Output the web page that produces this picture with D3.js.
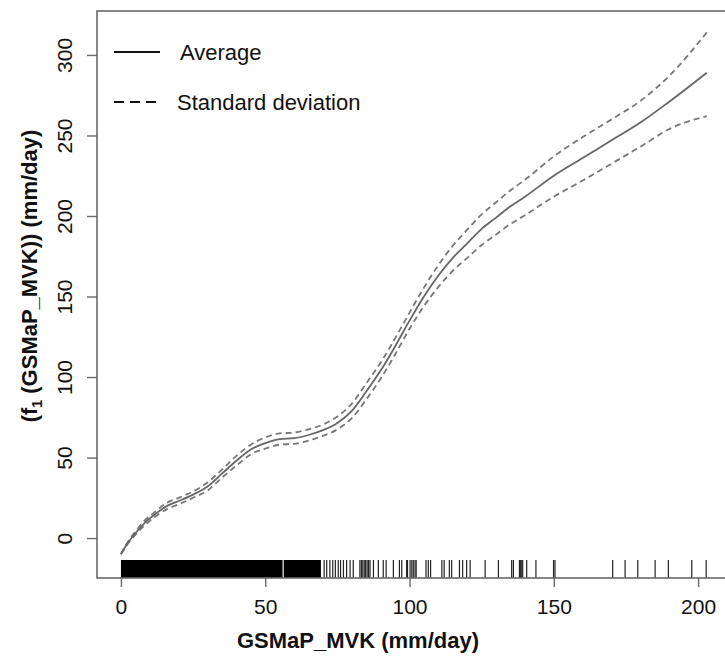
<!DOCTYPE html>
<html>
<head>
<meta charset="utf-8">
<script src="https://cdn.jsdelivr.net/npm/d3@7"></script>
<style>
  body { margin: 0; background: #fff; }
  text { font-family: "Liberation Sans", Arial, sans-serif; fill: #111; }
</style>
</head>
<body>
<div id="draw"></div>
<script>
// x grid of the smooth (mm/day)
var xs = [0, 2, 5, 8, 12, 16, 20, 25, 30, 35, 40, 45, 50, 55, 60, 65, 70, 75, 80, 85, 90, 95,
          100, 105, 110, 115, 120, 125, 130, 135, 140, 150, 160, 170, 180, 190, 203];
var average = [-10, -4, 3, 9, 15, 20, 23, 27, 32, 40, 48, 55, 59, 61.5, 62, 64, 67, 71.5, 79, 91, 104, 119,
               135, 150, 163, 174, 183, 192, 199, 206, 212, 225, 236, 247, 258, 271, 289];
var upper = [-10, -3.5, 4, 10.5, 16.5, 22, 25, 29, 34.5, 42.5, 51, 58, 62.5, 65, 65.5, 67.5, 70.5, 75.5, 83.5, 96, 109, 124,
             140, 155.5, 169.5, 181.5, 191.5, 201, 208.5, 216, 222.5, 237, 249, 260, 271.5, 287, 314];
var lower = [-10, -4.5, 2, 7.5, 13.5, 18, 21, 25, 29.5, 37.5, 45, 52, 55.5, 58, 58.5, 60.5, 63.5, 67.5, 74.5, 86, 99, 114,
             130, 144, 156, 166, 174, 182, 188.5, 195, 200.5, 212, 222, 232.5, 243, 254, 262];

// rug: dense spans (too many observations to separate) + single observations
var rugSpans = [[0, 56.0], [56.4, 69.3]];
var rugTicks = [70.4, 71.3, 72.4, 73.4, 74.3, 75.3, 76.1, 77.1, 78.2, 79.4, 80.5, 82.8, 83.3, 83.8, 84.3, 84.8, 85.3, 85.8, 86.3,
                87.5, 89.2, 90.9, 91.9, 94.4, 96.5, 97.3, 99.0, 99.3, 100.2, 100.8, 101.3, 101.9, 102.3,
                105.7, 106.5, 107.3, 111.2, 112.0, 113.8, 114.6, 117.3, 118.4, 119.8, 121.0, 126.2, 130.8,
                135.4, 136.0, 138.1, 138.4, 138.7, 139.2, 140.6, 143.8, 149.9, 150.4,
                170.4, 174.7, 179.1, 185.1, 189.7, 197.8, 202.8];

var xTicks = [0, 50, 100, 150, 200];
var yTicks = [0, 50, 100, 150, 200, 250, 300];

var W = 725, H = 656;
var pLeft = 97, pTop = 11, pRight = 731, pBottom = 578;

var x = d3.scaleLinear().domain([-8.3, 211.4]).range([pLeft, pRight]);
var y = d3.scaleLinear().domain([-24.8, 327.3]).range([pBottom, pTop]);

var svg = d3.select('#draw').append('svg').attr('width', W).attr('height', H);

svg.append('clipPath').attr('id', 'clip')
    .append('rect').attr('x', pLeft).attr('y', pTop).attr('width', pRight - pLeft).attr('height', pBottom - pTop);

var plot = svg.append('g').attr('clip-path', 'url(#clip)');

// rug
plot.selectAll('rect.span')
    .data(rugSpans)
    .enter()
    .append('rect')
    .attr('x', function(d){ return x(d[0]); })
    .attr('width', function(d){ return x(d[1]) - x(d[0]); })
    .attr('y', pBottom - 18).attr('height', 18)
    .attr('fill', '#000');

plot.selectAll('line.rug')
    .data(rugTicks)
    .enter()
    .append('line')
    .attr('x1', function(d){ return x(d); }).attr('x2', function(d){ return x(d); })
    .attr('y1', pBottom - 18).attr('y2', pBottom)
    .attr('stroke', '#222').attr('stroke-width', 1.2);

// curves
var line = function(vals){
    return d3.line()
        .x(function(d, i){ return x(xs[i]); })
        .y(function(d){ return y(d); })
        .curve(d3.curveMonotoneX)(vals);
};

plot.append('path').attr('d', line(upper)).attr('fill', 'none')
    .attr('stroke', '#777').attr('stroke-width', 1.8).attr('stroke-dasharray', '6,4');
plot.append('path').attr('d', line(lower)).attr('fill', 'none')
    .attr('stroke', '#777').attr('stroke-width', 1.8).attr('stroke-dasharray', '6,4');
plot.append('path').attr('d', line(average)).attr('fill', 'none')
    .attr('stroke', '#666').attr('stroke-width', 1.8);

// box
svg.append('rect').attr('x', pLeft).attr('y', pTop).attr('width', pRight - pLeft).attr('height', pBottom - pTop)
    .attr('fill', 'none').attr('stroke', '#6a6a6a').attr('stroke-width', 1.6);

// axes
var xAxis = svg.append('g').attr('transform', 'translate(0,' + pBottom + ')')
    .call(d3.axisBottom(x).tickValues(xTicks).tickSize(9).tickPadding(12));
xAxis.select('.domain').remove();
xAxis.selectAll('line').attr('stroke', '#6a6a6a').attr('stroke-width', 1.4);
xAxis.selectAll('text').style('font-size', '21px').attr('fill', '#111')
    .style('font-family', '"Liberation Sans", Arial, sans-serif');

var yAxis = svg.append('g').attr('transform', 'translate(' + pLeft + ',0)')
    .call(d3.axisLeft(y).tickValues(yTicks).tickSize(10));
yAxis.select('.domain').remove();
yAxis.selectAll('line').attr('stroke', '#6a6a6a').attr('stroke-width', 1.4);
yAxis.selectAll('text')
    .attr('x', null).attr('dy', null)
    .attr('text-anchor', 'middle')
    .attr('transform', 'translate(-25,0) rotate(-90)')
    .style('font-size', '21px').attr('fill', '#111')
    .style('font-family', '"Liberation Sans", Arial, sans-serif');

// axis titles
svg.append('text').attr('x', 358).attr('y', 648).attr('text-anchor', 'middle')
    .style('font-size', '22px').style('font-weight', 'bold').text('GSMaP_MVK (mm/day)');

var yt = svg.append('text').attr('transform', 'translate(37,276) rotate(-90)').attr('text-anchor', 'middle')
    .style('font-size', '22px').style('font-weight', 'bold');
yt.append('tspan').text('(f');
yt.append('tspan').attr('dy', 5).style('font-size', '14px').text('1');
yt.append('tspan').attr('dy', -5).text(' (GSMaP_MVK)) (mm/day)');

// legend
var legend = [
    { label: 'Average', dash: null, ly: 52, tx: 180 },
    { label: 'Standard deviation', dash: '10,6', ly: 102, tx: 177 }
];
legend.forEach(function(d){
    svg.append('line').attr('x1', 114).attr('x2', 160).attr('y1', d.ly).attr('y2', d.ly)
        .attr('stroke', '#111').attr('stroke-width', 2).attr('stroke-dasharray', d.dash);
    svg.append('text').attr('x', d.tx).attr('y', d.ly + 8).style('font-size', '22px').text(d.label);
});
</script>
</body>
</html>
